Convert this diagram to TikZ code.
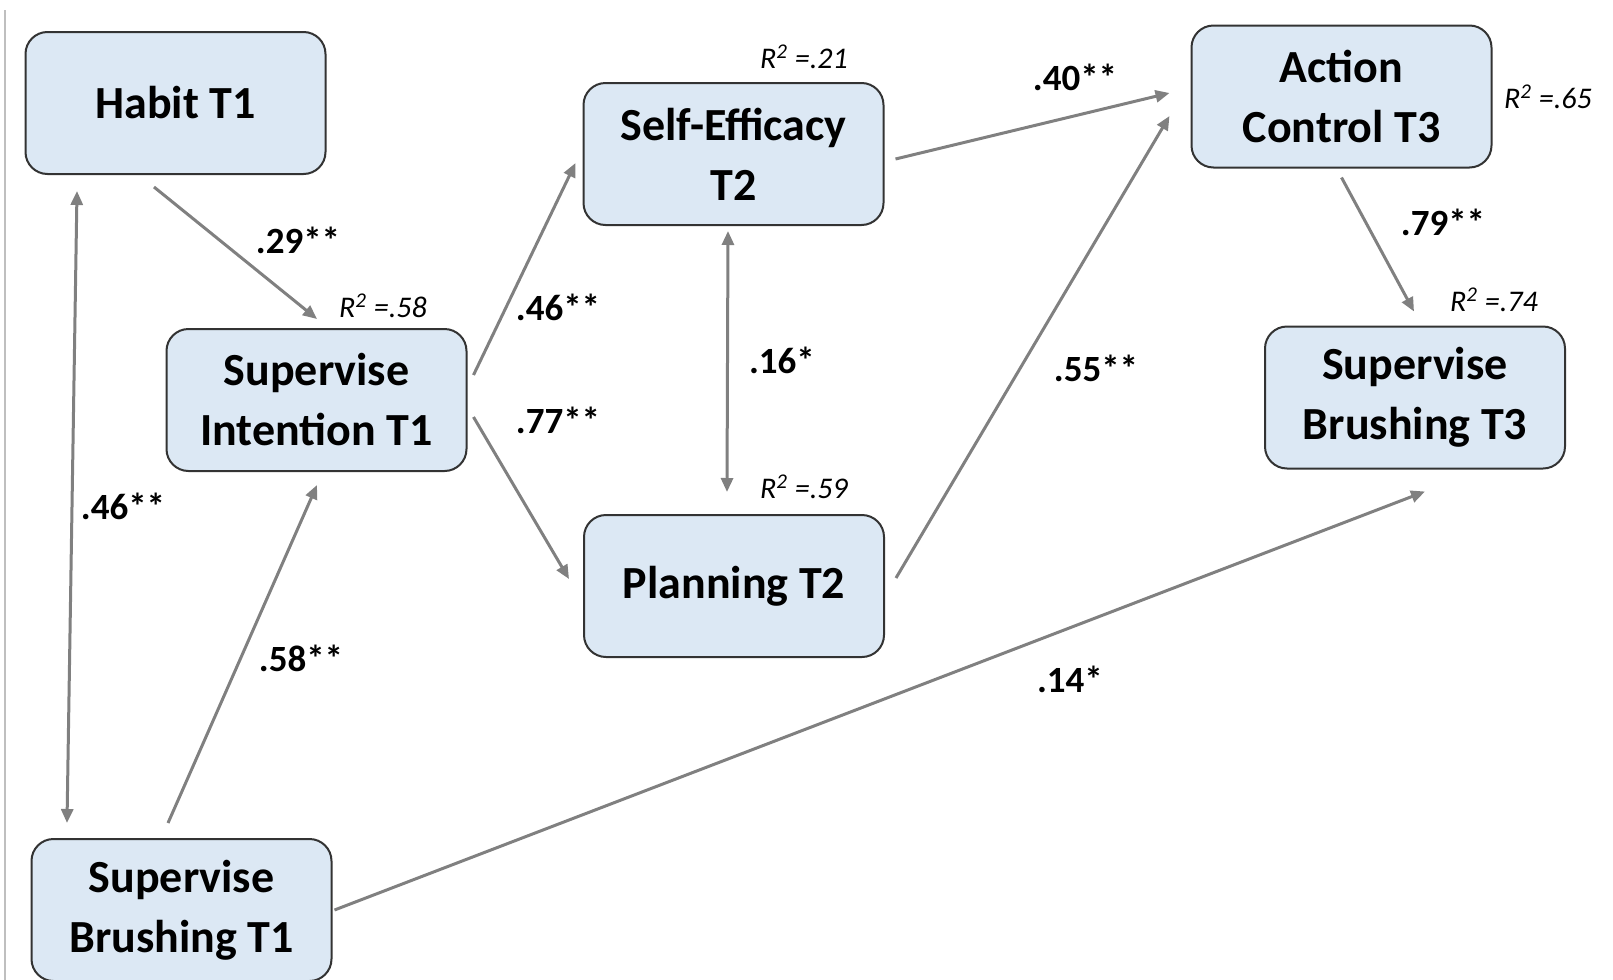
\documentclass[tikz,border=0pt]{standalone}
\usepackage{fontspec}
\setmainfont{Carlito}
\usetikzlibrary{arrows.meta}
\definecolor{boxblue}{RGB}{220,232,244}
\definecolor{arrgray}{RGB}{128,128,128}

\begin{document}
\begin{tikzpicture}[x=0.5pt, y=-0.5pt,
            box/.style={
              draw=black!80, line width=1pt, fill=boxblue,
              rounded corners=11pt,
              minimum width=150pt, minimum height=71pt,
              align=center, inner sep=0pt,
              font=\bfseries\fontsize{23}{30}\selectfont
            },
            coef/.style={
              font=\bfseries\fontsize{18.5}{22}\selectfont
            },
            rsq/.style={
              font=\itshape\fontsize{15}{18}\selectfont
            },
            arr/.style={
              draw=arrgray, line width=1.5pt,
              -{Triangle[length=7pt,width=6pt]}
            },
            darr/.style={
              arr,
              {Triangle[length=7pt,width=6pt]}-{Triangle[length=7pt,width=6pt]}
            }
        ]
\useasboundingbox (0,0) rectangle (1613,980);
\draw[black!25, line width=1pt] (5,10) -- (5,980);

% constructs
\node[box] (habit)   at (175.5,103)  {Habit T1};
\node[box] (inten)   at (316.5,400)  {Supervise\\Intention T1};
\node[box] (selfeff) at (733.5,154)  {Self-Efficacy\\T2};
\node[box] (plan)    at (734,586)    {Planning T2};
\node[box] (action)  at (1341.5,96.5) {Action\\Control T3};
\node[box] (brush3)  at (1415,397.5) {Supervise\\Brushing T3};
\node[box] (brush1)  at (181.5,910)  {Supervise\\Brushing T1};

% paths
\draw[arr]  ([shift={(-21.5,12)}]habit.south) -- ([shift={(0.5,-9)}]inten.north);
\draw[darr] ([shift={(-98.5,16)}]habit.south) -- ([shift={(-114.5,-15)}]brush1.north);
\draw[arr]  ([shift={(-13.5,-15)}]brush1.north) -- ([shift={(0.5,13)}]inten.south);
\draw[arr]  ([shift={(6,-25)}]inten.east) -- ([shift={(-7,9)}]selfeff.west);
\draw[arr]  ([shift={(6,17)}]inten.east) -- ([shift={(-14,-7)}]plan.west);
\draw[darr] ([shift={(-5.5,5)}]selfeff.south) -- ([shift={(-7,-22)}]plan.north);
\draw[arr]  ([shift={(11,5)}]selfeff.east) -- ([shift={(-21,-3.5)}]action.west);
\draw[arr]  ([shift={(11,-8)}]plan.east) -- ([shift={(-21,19.5)}]action.west);
\draw[arr]  ([shift={(0,9)}]action.south) -- ([shift={(-1,-14)}]brush3.north);
\draw[arr]  ([shift={(2,0)}]brush1.east) -- ([shift={(10,22)}]brush3.south);

% coefficients
\foreach \n/\p/\t in {c29/{298,240}/.29**, c46a/{558,307}/.46**, c77/{558,420}/.77**,
    c46b/{123,506}/.46**, c58/{301,658}/.58**, c16/{782,360}/.16*,
    c40/{1075,77}/.40**, c55/{1096,368}/.55**, c79/{1443,222}/.79**, c14/{1070,679}/.14*}
    \node[coef] (\n) at (\p) {\t};

% explained variance
\foreach \n/\p/\t in {r58/{383,306}/.58, r21/{804,57}/.21, r59/{804,487}/.59,
    r65/{1548,97}/.65, r74/{1494,300}/.74}
    \node[rsq] (\n) at (\p) {R\textsuperscript{2} =\t};

\end{tikzpicture}
\end{document}
